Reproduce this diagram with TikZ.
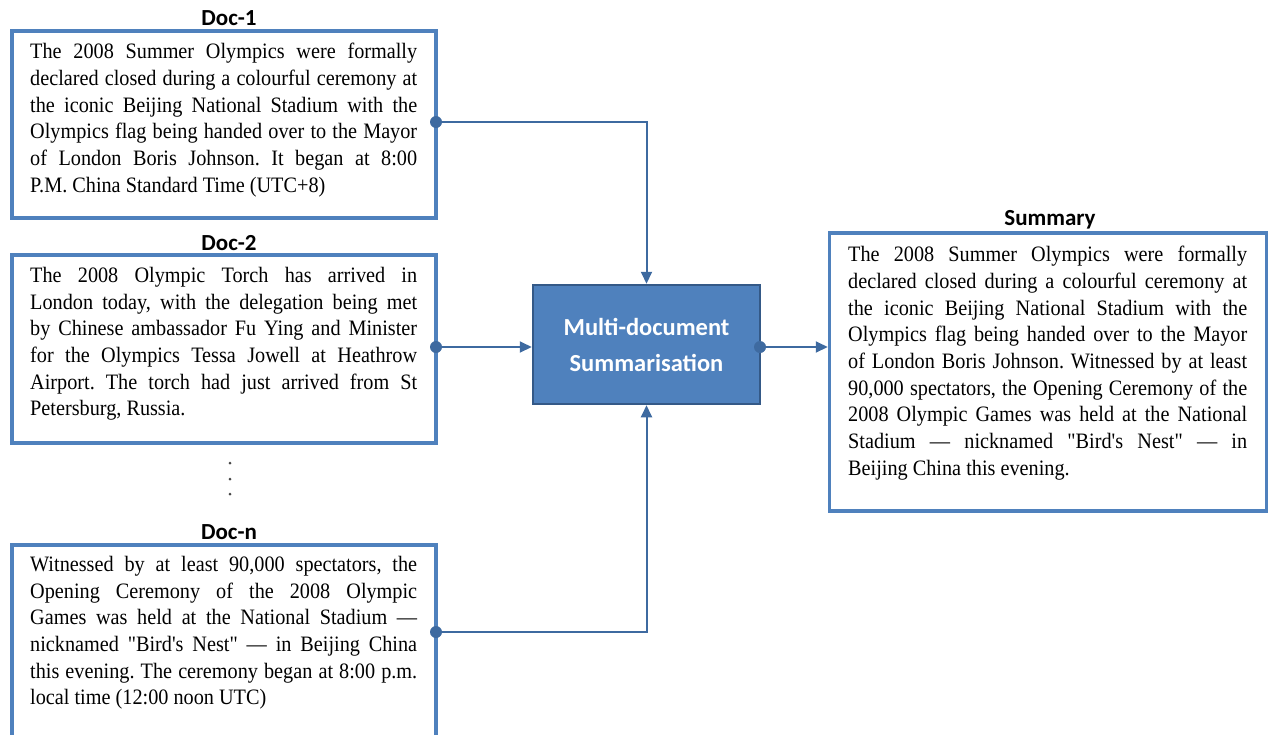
\documentclass[tikz,border=0pt]{standalone}
\usepackage{fontspec}
\setmainfont{Liberation Serif}
\newfontfamily\bodyfont[FakeStretch=0.92]{Liberation Serif}
\newfontfamily\labelfont{Carlito}
\usetikzlibrary{arrows.meta}

\definecolor{boxblue}{RGB}{79,129,189}
\definecolor{linkblue}{RGB}{62,106,160}
\definecolor{corefill}{RGB}{79,129,189}
\definecolor{coreedge}{RGB}{52,89,135}
\definecolor{dotgrey}{RGB}{70,70,70}

\tikzset{
  docbox/.style={draw=boxblue, line width=3.5pt, rectangle, inner sep=0pt},
  doctext/.style={anchor=north west, inner sep=0pt, align=justify,
    font=\bodyfont\fontsize{22}{26.7}\selectfont},
  doctitle/.style={font=\labelfont\bfseries\fontsize{23}{26}\selectfont, inner sep=0pt},
  corebox/.style={draw=coreedge, line width=2.5pt, fill=corefill, rectangle,
    minimum width=227pt, minimum height=119pt, inner sep=0pt, align=center,
    text=white, font=\labelfont\bfseries\fontsize{24.5}{36}\selectfont},
  link/.style={draw=linkblue, line width=2pt},
  linkarrow/.style={link, -{Triangle[length=12pt,width=11pt]}},
  port/.style={circle, fill=linkblue, inner sep=0pt, minimum size=12pt},
  gap dot/.style={circle, fill=dotgrey, inner sep=0pt, minimum size=3pt},
}

\begin{document}
\hyphenpenalty=10000
\exhyphenpenalty=10000
\tolerance=10000
\frenchspacing
\begin{tikzpicture}[x=1pt, y=-1pt]
\useasboundingbox (0,0) rectangle (1272,734);
\clip (0,0) rectangle (1272,734);

% source documents
\node[docbox, minimum width=424pt, minimum height=187pt] (d1) at (224,124.5) {};
\node[doctitle] (t1) at (229,18) {Doc-1};
\node[doctext, text width=387pt] (x1) at (30,43) {The 2008 Summer Olympics were formally\linebreak
declared closed during a colourful ceremony at\linebreak
the iconic Beijing National Stadium with the\linebreak
Olympics flag being handed over to the Mayor\linebreak
of London Boris Johnson. It began at 8:00\linebreak
P.M. China Standard Time (UTC+8)};

\node[docbox, minimum width=424pt, minimum height=188pt] (d2) at (224,349) {};
\node[doctitle] (t2) at (229,243) {Doc-2};
\node[doctext, text width=387pt] (x2) at (30,267) {The 2008 Olympic Torch has arrived in\linebreak
London today, with the delegation being met\linebreak
by Chinese ambassador Fu Ying and Minister\linebreak
for the Olympics Tessa Jowell at Heathrow\linebreak
Airport. The torch had just arrived from St\linebreak
Petersburg, Russia.};

\node[gap dot] (g1) at (230,463) {};
\node[gap dot] (g2) at (230,479) {};
\node[gap dot] (g3) at (230,494) {};

\node[docbox, minimum width=424pt, minimum height=260pt] (dn) at (224,675) {};
\node[doctitle] (tn) at (229,532) {Doc-n};
\node[doctext, text width=387pt] (xn) at (30,556) {Witnessed by at least 90,000 spectators, the\linebreak
Opening Ceremony of the 2008 Olympic\linebreak
Games was held at the National Stadium —\linebreak
nicknamed "Bird's Nest" — in Beijing China\linebreak
this evening. The ceremony began at 8:00 p.m.\linebreak
local time (12:00 noon UTC)};

% summariser
\node[corebox] (core) at (646.5,344.5) {Multi-document\\Summarisation};

% summary
\node[docbox, minimum width=437pt, minimum height=278pt] (sm) at (1048,372) {};
\node[doctitle] (ts) at (1050,220) {Summary};
\node[doctext, text width=399pt] (xs) at (848,246) {The 2008 Summer Olympics were formally\linebreak
declared closed during a colourful ceremony at\linebreak
the iconic Beijing National Stadium with the\linebreak
Olympics flag being handed over to the Mayor\linebreak
of London Boris Johnson. Witnessed by at least\linebreak
90,000 spectators, the Opening Ceremony of the\linebreak
2008 Olympic Games was held at the National\linebreak
Stadium — nicknamed "Bird's Nest" — in\linebreak
Beijing China this evening.};

% output ports
\node[port] (p1) at (436,122) {};
\node[port] (p2) at (436,347) {};
\node[port] (pn) at (436,632) {};
\node[port] (pc) at (760,347) {};

% connectors
\draw[linkarrow] (p1.center) -| (core.north);
\draw[linkarrow] (p2.center) -- (p2 -| core.west);
\draw[linkarrow] (pn.center) -| (core.south);
\draw[linkarrow] (pc.center) -- (pc -| sm.west);
\end{tikzpicture}
\end{document}
